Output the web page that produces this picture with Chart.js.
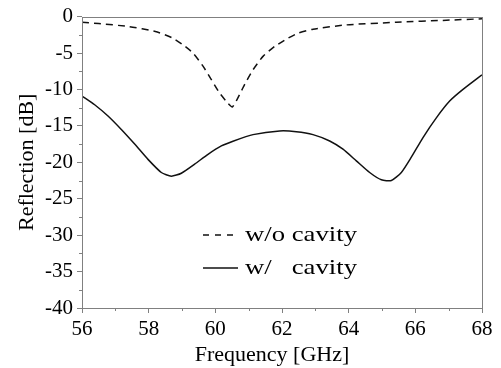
<!DOCTYPE html>
<html>
<head>
<meta charset="utf-8">
<script src="https://cdn.jsdelivr.net/npm/chart.js@4/dist/chart.umd.min.js"></script>
<style>
  html, body { margin: 0; padding: 0; background: #fff; }
  #wrap { width: 501px; height: 368px; position: relative; }
</style>
</head>
<body>
<div id="wrap"><canvas id="c" width="501" height="368"></canvas></div>
<script>
// ---- data ----
const freqNoCavity = [56, 56.5, 57.4, 58.2, 58.7, 59.03, 59.33, 59.63, 59.88, 60.13, 60.38, 60.51, 60.65, 60.88, 61.13, 61.43, 61.78, 62.18, 62.48, 62.93, 63.93, 65.43, 66.93, 68];
const reflNoCavity = [-0.78, -0.95, -1.37, -2.05, -2.9, -3.87, -5.0, -6.8, -8.65, -10.5, -11.9, -12.4, -11.4, -9.3, -7.3, -5.46, -4.1, -2.96, -2.28, -1.73, -1.14, -0.78, -0.5, -0.3];
const freqCavity = [56, 56.38, 56.78, 57.18, 57.58, 57.98, 58.38, 58.68, 58.98, 59.38, 59.78, 60.18, 60.53, 61.13, 61.93, 62.43, 62.93, 63.43, 63.83, 64.23, 64.63, 64.98, 65.28, 65.58, 65.88, 66.23, 66.63, 67.03, 67.43, 68];
const reflCavity = [-10.9, -12.1, -13.65, -15.5, -17.5, -19.6, -21.4, -21.9, -21.5, -20.25, -18.9, -17.75, -17.1, -16.2, -15.7, -15.8, -16.2, -17.07, -18.2, -19.8, -21.4, -22.4, -22.5, -21.4, -19.3, -16.6, -13.9, -11.6, -10.0, -8.0];
const seriesLabels = ['w/o cavity', 'w/   cavity'];
const xTitle = 'Frequency [GHz]';
const yTitle = 'Reflection [dB]';

const FONT = '"Liberation Serif"';
const FRAME = '#808080';

function pts(xs, ys) { return xs.map((x, i) => ({ x: x, y: ys[i] })); }

const framePlugin = {
  id: 'frame',
  afterDraw(chart) {
    const ctx = chart.ctx, a = chart.chartArea;
    const xs = chart.scales.x, ys = chart.scales.y;
    ctx.save();
    ctx.strokeStyle = FRAME;
    ctx.lineWidth = 1;
    ctx.strokeRect(Math.round(a.left) + 0.5, Math.round(a.top) + 0.5, Math.round(a.right - a.left), Math.round(a.bottom - a.top));
    ctx.beginPath();
    for (let v = xs.min + 1; v < xs.max; v += 2) {
      const px = Math.round(xs.getPixelForValue(v)) + 0.5;
      ctx.moveTo(px, a.bottom); ctx.lineTo(px, a.bottom + 3);
    }
    for (let v = ys.max - 2.5; v > ys.min; v -= 5) {
      const py = Math.round(ys.getPixelForValue(v)) + 0.5;
      ctx.moveTo(a.left, py); ctx.lineTo(a.left - 3, py);
    }
    ctx.stroke();
    // x-axis title (slightly left of centre, as in the source figure)
    ctx.fillStyle = '#000';
    ctx.font = '22px ' + FONT;
    ctx.textAlign = 'center';
    ctx.textBaseline = 'middle';
    ctx.fillText(xTitle, (a.left + a.right) / 2 - 10, 355);
    // legend
    const lx0 = 203, lx1 = 238, tx = 245, targetW = 112;
    const rows = [235, 268];
    const w = ctx.measureText(seriesLabels[0]).width;
    const sx = targetW / w;
    chart.data.datasets.forEach((ds, i) => {
      const y = rows[i];
      ctx.beginPath();
      ctx.strokeStyle = ds.borderColor;
      ctx.lineWidth = 1.5;
      ctx.setLineDash(i === 0 ? [6, 6] : []);
      ctx.moveTo(lx0, y); ctx.lineTo(lx1, y);
      ctx.stroke();
      ctx.setLineDash([]);
      ctx.fillStyle = '#000';
      ctx.textAlign = 'left';
      ctx.save();
      ctx.translate(tx, y);
      ctx.scale(sx, 1);
      ctx.fillText(ds.label, 0, 0);
      ctx.restore();
    });
    ctx.restore();
  }
};

new Chart(document.getElementById('c'), {
  type: 'line',
  data: {
    datasets: [
      { label: seriesLabels[0], data: pts(freqNoCavity, reflNoCavity), borderColor: '#111', borderWidth: 1.5, borderDash: [7, 5], pointRadius: 0, tension: 0.2, fill: false },
      { label: seriesLabels[1], data: pts(freqCavity, reflCavity), borderColor: '#111', borderWidth: 1.5, pointRadius: 0, tension: 0.2, fill: false }
    ]
  },
  options: {
    responsive: false,
    animation: false,
    events: [],
    layout: { padding: { top: 15, right: 19, left: 0, bottom: 0 } },
    plugins: { legend: { display: false }, tooltip: { enabled: false } },
    scales: {
      x: {
        type: 'linear', min: 56, max: 68,
        ticks: { stepSize: 2, color: '#000', font: { family: FONT, size: 21 }, padding: 4, maxRotation: 0 },
        grid: { drawOnChartArea: false, drawTicks: true, tickLength: 5, tickColor: FRAME, color: FRAME },
        border: { display: false },
        title: { display: false, text: xTitle },
        afterFit(s) { s.height = 60; }
      },
      y: {
        type: 'linear', min: -40, max: 0,
        ticks: { stepSize: 5, color: '#000', font: { family: FONT, size: 21 }, padding: 4 },
        grid: { drawOnChartArea: false, drawTicks: true, tickLength: 5, tickColor: FRAME, color: FRAME },
        border: { display: false },
        title: { display: true, text: yTitle, color: '#000', font: { family: FONT, size: 22 }, padding: { top: 14, bottom: 0 } },
        afterFit(s) { s.width = 82; }
      }
    }
  },
  plugins: [framePlugin]
});
</script>
</body>
</html>
